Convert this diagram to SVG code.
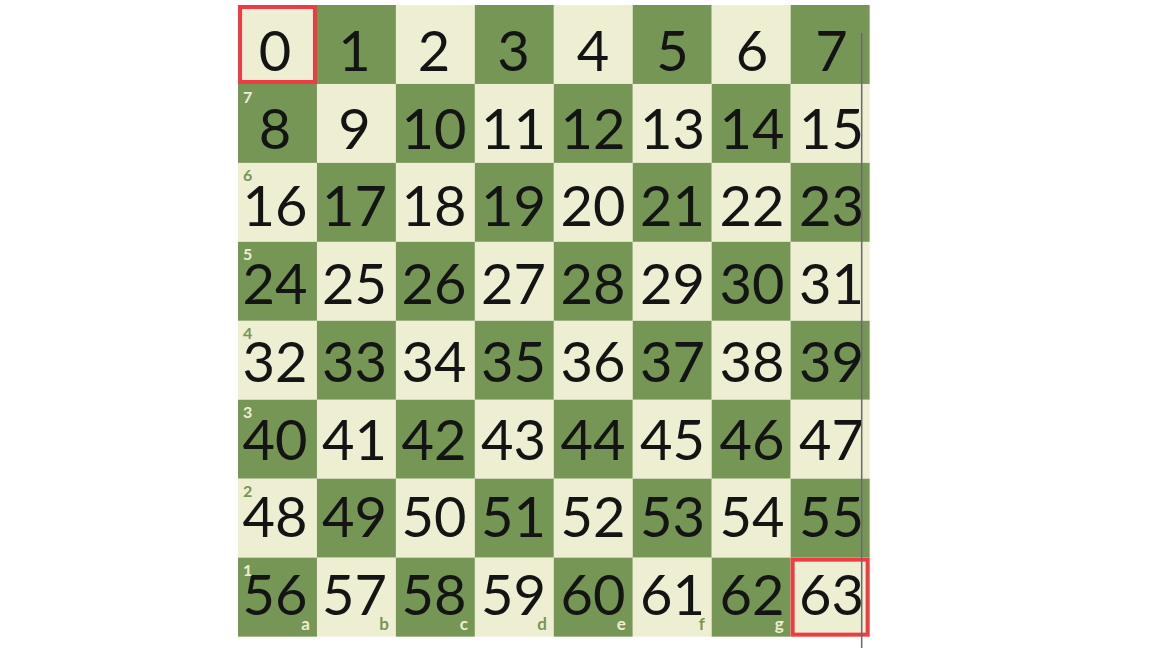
<svg xmlns="http://www.w3.org/2000/svg" width="1152" height="648" viewBox="0 0 1152 648">
<style>
.l{fill:#EEEED2}
.d{fill:#769656}
.n{font-family:Lato,"Open Sans","DejaVu Sans",sans-serif;font-size:56px;fill:#141414;text-anchor:middle}
.rk{font-family:Lato,"Open Sans",sans-serif;font-size:16px;font-weight:bold}
.fl{font-family:Lato,"Open Sans",sans-serif;font-size:17px;font-weight:bold;text-anchor:end}
.cl{fill:#EEEED2}
.cd{fill:#769656}
.hl{fill:none;stroke:#EE3B44;stroke-width:4}
</style>
<rect width="1152" height="648" fill="#ffffff"/>
<g id="board">
<g id="sq0"><rect class="l" x="238" y="5" width="79" height="79"/><text class="n" x="275" y="71">0</text></g>
<g id="sq1"><rect class="d" x="316.95" y="5" width="79" height="79"/><text class="n" x="354.5" y="71">1</text></g>
<g id="sq2"><rect class="l" x="395.9" y="5" width="79" height="79"/><text class="n" x="434" y="71">2</text></g>
<g id="sq3"><rect class="d" x="474.85" y="5" width="79" height="79"/><text class="n" x="513.5" y="71">3</text></g>
<g id="sq4"><rect class="l" x="553.8" y="5" width="79" height="79"/><text class="n" x="593" y="71">4</text></g>
<g id="sq5"><rect class="d" x="632.75" y="5" width="79" height="79"/><text class="n" x="672.5" y="71">5</text></g>
<g id="sq6"><rect class="l" x="711.7" y="5" width="79" height="79"/><text class="n" x="752" y="71">6</text></g>
<g id="sq7"><rect class="d" x="790.65" y="5" width="79" height="79"/><text class="n" x="831.5" y="71">7</text></g>

<g id="sq8"><rect class="d" x="238" y="83.95" width="79" height="79"/><text class="n" x="275" y="148.7">8</text></g>
<g id="sq9"><rect class="l" x="316.95" y="83.95" width="79" height="79"/><text class="n" x="354.5" y="148.7">9</text></g>
<g id="sq10"><rect class="d" x="395.9" y="83.95" width="79" height="79"/><text class="n" x="434" y="148.7">10</text></g>
<g id="sq11"><rect class="l" x="474.85" y="83.95" width="79" height="79"/><text class="n" x="513.5" y="148.7">11</text></g>
<g id="sq12"><rect class="d" x="553.8" y="83.95" width="79" height="79"/><text class="n" x="593" y="148.7">12</text></g>
<g id="sq13"><rect class="l" x="632.75" y="83.95" width="79" height="79"/><text class="n" x="672.5" y="148.7">13</text></g>
<g id="sq14"><rect class="d" x="711.7" y="83.95" width="79" height="79"/><text class="n" x="752" y="148.7">14</text></g>
<g id="sq15"><rect class="l" x="790.65" y="83.95" width="79" height="79"/><text class="n" x="831.5" y="148.7">15</text></g>

<g id="sq16"><rect class="l" x="238" y="162.9" width="79" height="79"/><text class="n" x="275" y="226.4">16</text></g>
<g id="sq17"><rect class="d" x="316.95" y="162.9" width="79" height="79"/><text class="n" x="354.5" y="226.4">17</text></g>
<g id="sq18"><rect class="l" x="395.9" y="162.9" width="79" height="79"/><text class="n" x="434" y="226.4">18</text></g>
<g id="sq19"><rect class="d" x="474.85" y="162.9" width="79" height="79"/><text class="n" x="513.5" y="226.4">19</text></g>
<g id="sq20"><rect class="l" x="553.8" y="162.9" width="79" height="79"/><text class="n" x="593" y="226.4">20</text></g>
<g id="sq21"><rect class="d" x="632.75" y="162.9" width="79" height="79"/><text class="n" x="672.5" y="226.4">21</text></g>
<g id="sq22"><rect class="l" x="711.7" y="162.9" width="79" height="79"/><text class="n" x="752" y="226.4">22</text></g>
<g id="sq23"><rect class="d" x="790.65" y="162.9" width="79" height="79"/><text class="n" x="831.5" y="226.4">23</text></g>

<g id="sq24"><rect class="d" x="238" y="241.85" width="79" height="79"/><text class="n" x="275" y="304.1">24</text></g>
<g id="sq25"><rect class="l" x="316.95" y="241.85" width="79" height="79"/><text class="n" x="354.5" y="304.1">25</text></g>
<g id="sq26"><rect class="d" x="395.9" y="241.85" width="79" height="79"/><text class="n" x="434" y="304.1">26</text></g>
<g id="sq27"><rect class="l" x="474.85" y="241.85" width="79" height="79"/><text class="n" x="513.5" y="304.1">27</text></g>
<g id="sq28"><rect class="d" x="553.8" y="241.85" width="79" height="79"/><text class="n" x="593" y="304.1">28</text></g>
<g id="sq29"><rect class="l" x="632.75" y="241.85" width="79" height="79"/><text class="n" x="672.5" y="304.1">29</text></g>
<g id="sq30"><rect class="d" x="711.7" y="241.85" width="79" height="79"/><text class="n" x="752" y="304.1">30</text></g>
<g id="sq31"><rect class="l" x="790.65" y="241.85" width="79" height="79"/><text class="n" x="831.5" y="304.1">31</text></g>

<g id="sq32"><rect class="l" x="238" y="320.8" width="79" height="79"/><text class="n" x="275" y="381.8">32</text></g>
<g id="sq33"><rect class="d" x="316.95" y="320.8" width="79" height="79"/><text class="n" x="354.5" y="381.8">33</text></g>
<g id="sq34"><rect class="l" x="395.9" y="320.8" width="79" height="79"/><text class="n" x="434" y="381.8">34</text></g>
<g id="sq35"><rect class="d" x="474.85" y="320.8" width="79" height="79"/><text class="n" x="513.5" y="381.8">35</text></g>
<g id="sq36"><rect class="l" x="553.8" y="320.8" width="79" height="79"/><text class="n" x="593" y="381.8">36</text></g>
<g id="sq37"><rect class="d" x="632.75" y="320.8" width="79" height="79"/><text class="n" x="672.5" y="381.8">37</text></g>
<g id="sq38"><rect class="l" x="711.7" y="320.8" width="79" height="79"/><text class="n" x="752" y="381.8">38</text></g>
<g id="sq39"><rect class="d" x="790.65" y="320.8" width="79" height="79"/><text class="n" x="831.5" y="381.8">39</text></g>

<g id="sq40"><rect class="d" x="238" y="399.75" width="79" height="79"/><text class="n" x="275" y="459.5">40</text></g>
<g id="sq41"><rect class="l" x="316.95" y="399.75" width="79" height="79"/><text class="n" x="354.5" y="459.5">41</text></g>
<g id="sq42"><rect class="d" x="395.9" y="399.75" width="79" height="79"/><text class="n" x="434" y="459.5">42</text></g>
<g id="sq43"><rect class="l" x="474.85" y="399.75" width="79" height="79"/><text class="n" x="513.5" y="459.5">43</text></g>
<g id="sq44"><rect class="d" x="553.8" y="399.75" width="79" height="79"/><text class="n" x="593" y="459.5">44</text></g>
<g id="sq45"><rect class="l" x="632.75" y="399.75" width="79" height="79"/><text class="n" x="672.5" y="459.5">45</text></g>
<g id="sq46"><rect class="d" x="711.7" y="399.75" width="79" height="79"/><text class="n" x="752" y="459.5">46</text></g>
<g id="sq47"><rect class="l" x="790.65" y="399.75" width="79" height="79"/><text class="n" x="831.5" y="459.5">47</text></g>

<g id="sq48"><rect class="l" x="238" y="478.7" width="79" height="79"/><text class="n" x="275" y="537.2">48</text></g>
<g id="sq49"><rect class="d" x="316.95" y="478.7" width="79" height="79"/><text class="n" x="354.5" y="537.2">49</text></g>
<g id="sq50"><rect class="l" x="395.9" y="478.7" width="79" height="79"/><text class="n" x="434" y="537.2">50</text></g>
<g id="sq51"><rect class="d" x="474.85" y="478.7" width="79" height="79"/><text class="n" x="513.5" y="537.2">51</text></g>
<g id="sq52"><rect class="l" x="553.8" y="478.7" width="79" height="79"/><text class="n" x="593" y="537.2">52</text></g>
<g id="sq53"><rect class="d" x="632.75" y="478.7" width="79" height="79"/><text class="n" x="672.5" y="537.2">53</text></g>
<g id="sq54"><rect class="l" x="711.7" y="478.7" width="79" height="79"/><text class="n" x="752" y="537.2">54</text></g>
<g id="sq55"><rect class="d" x="790.65" y="478.7" width="79" height="79"/><text class="n" x="831.5" y="537.2">55</text></g>

<g id="sq56"><rect class="d" x="238" y="557.65" width="79" height="79"/><text class="n" x="275" y="614.9">56</text></g>
<g id="sq57"><rect class="l" x="316.95" y="557.65" width="79" height="79"/><text class="n" x="354.5" y="614.9">57</text></g>
<g id="sq58"><rect class="d" x="395.9" y="557.65" width="79" height="79"/><text class="n" x="434" y="614.9">58</text></g>
<g id="sq59"><rect class="l" x="474.85" y="557.65" width="79" height="79"/><text class="n" x="513.5" y="614.9">59</text></g>
<g id="sq60"><rect class="d" x="553.8" y="557.65" width="79" height="79"/><text class="n" x="593" y="614.9">60</text></g>
<g id="sq61"><rect class="l" x="632.75" y="557.65" width="79" height="79"/><text class="n" x="672.5" y="614.9">61</text></g>
<g id="sq62"><rect class="d" x="711.7" y="557.65" width="79" height="79"/><text class="n" x="752" y="614.9">62</text></g>
<g id="sq63"><rect class="l" x="790.65" y="557.65" width="79" height="79"/><text class="n" x="831.5" y="614.9">63</text></g>
</g>
<g id="ranks">
<text class="rk cl" x="243" y="102.5">7</text>
<text class="rk cd" x="243" y="181.4">6</text>
<text class="rk cl" x="243" y="260.4">5</text>
<text class="rk cd" x="243" y="339.3">4</text>
<text class="rk cl" x="243" y="418.3">3</text>
<text class="rk cd" x="243" y="497.2">2</text>
<text class="rk cl" x="243" y="576.2">1</text>
</g>
<g id="files">
<text class="fl cl" x="310" y="630">a</text>
<text class="fl cd" x="389" y="630">b</text>
<text class="fl cl" x="467.9" y="630">c</text>
<text class="fl cd" x="546.9" y="630">d</text>
<text class="fl cl" x="625.8" y="630">e</text>
<text class="fl cd" x="704.8" y="630">f</text>
<text class="fl cl" x="783.7" y="630">g</text>
</g>
<g id="highlights">
<rect class="hl" x="240" y="7" width="75" height="75"/>
<rect class="hl" x="792.65" y="559.65" width="75" height="75"/>
</g>
<line x1="861.7" y1="33" x2="861.7" y2="648" stroke="#6a6a6a" stroke-width="1.5"/>
</svg>
